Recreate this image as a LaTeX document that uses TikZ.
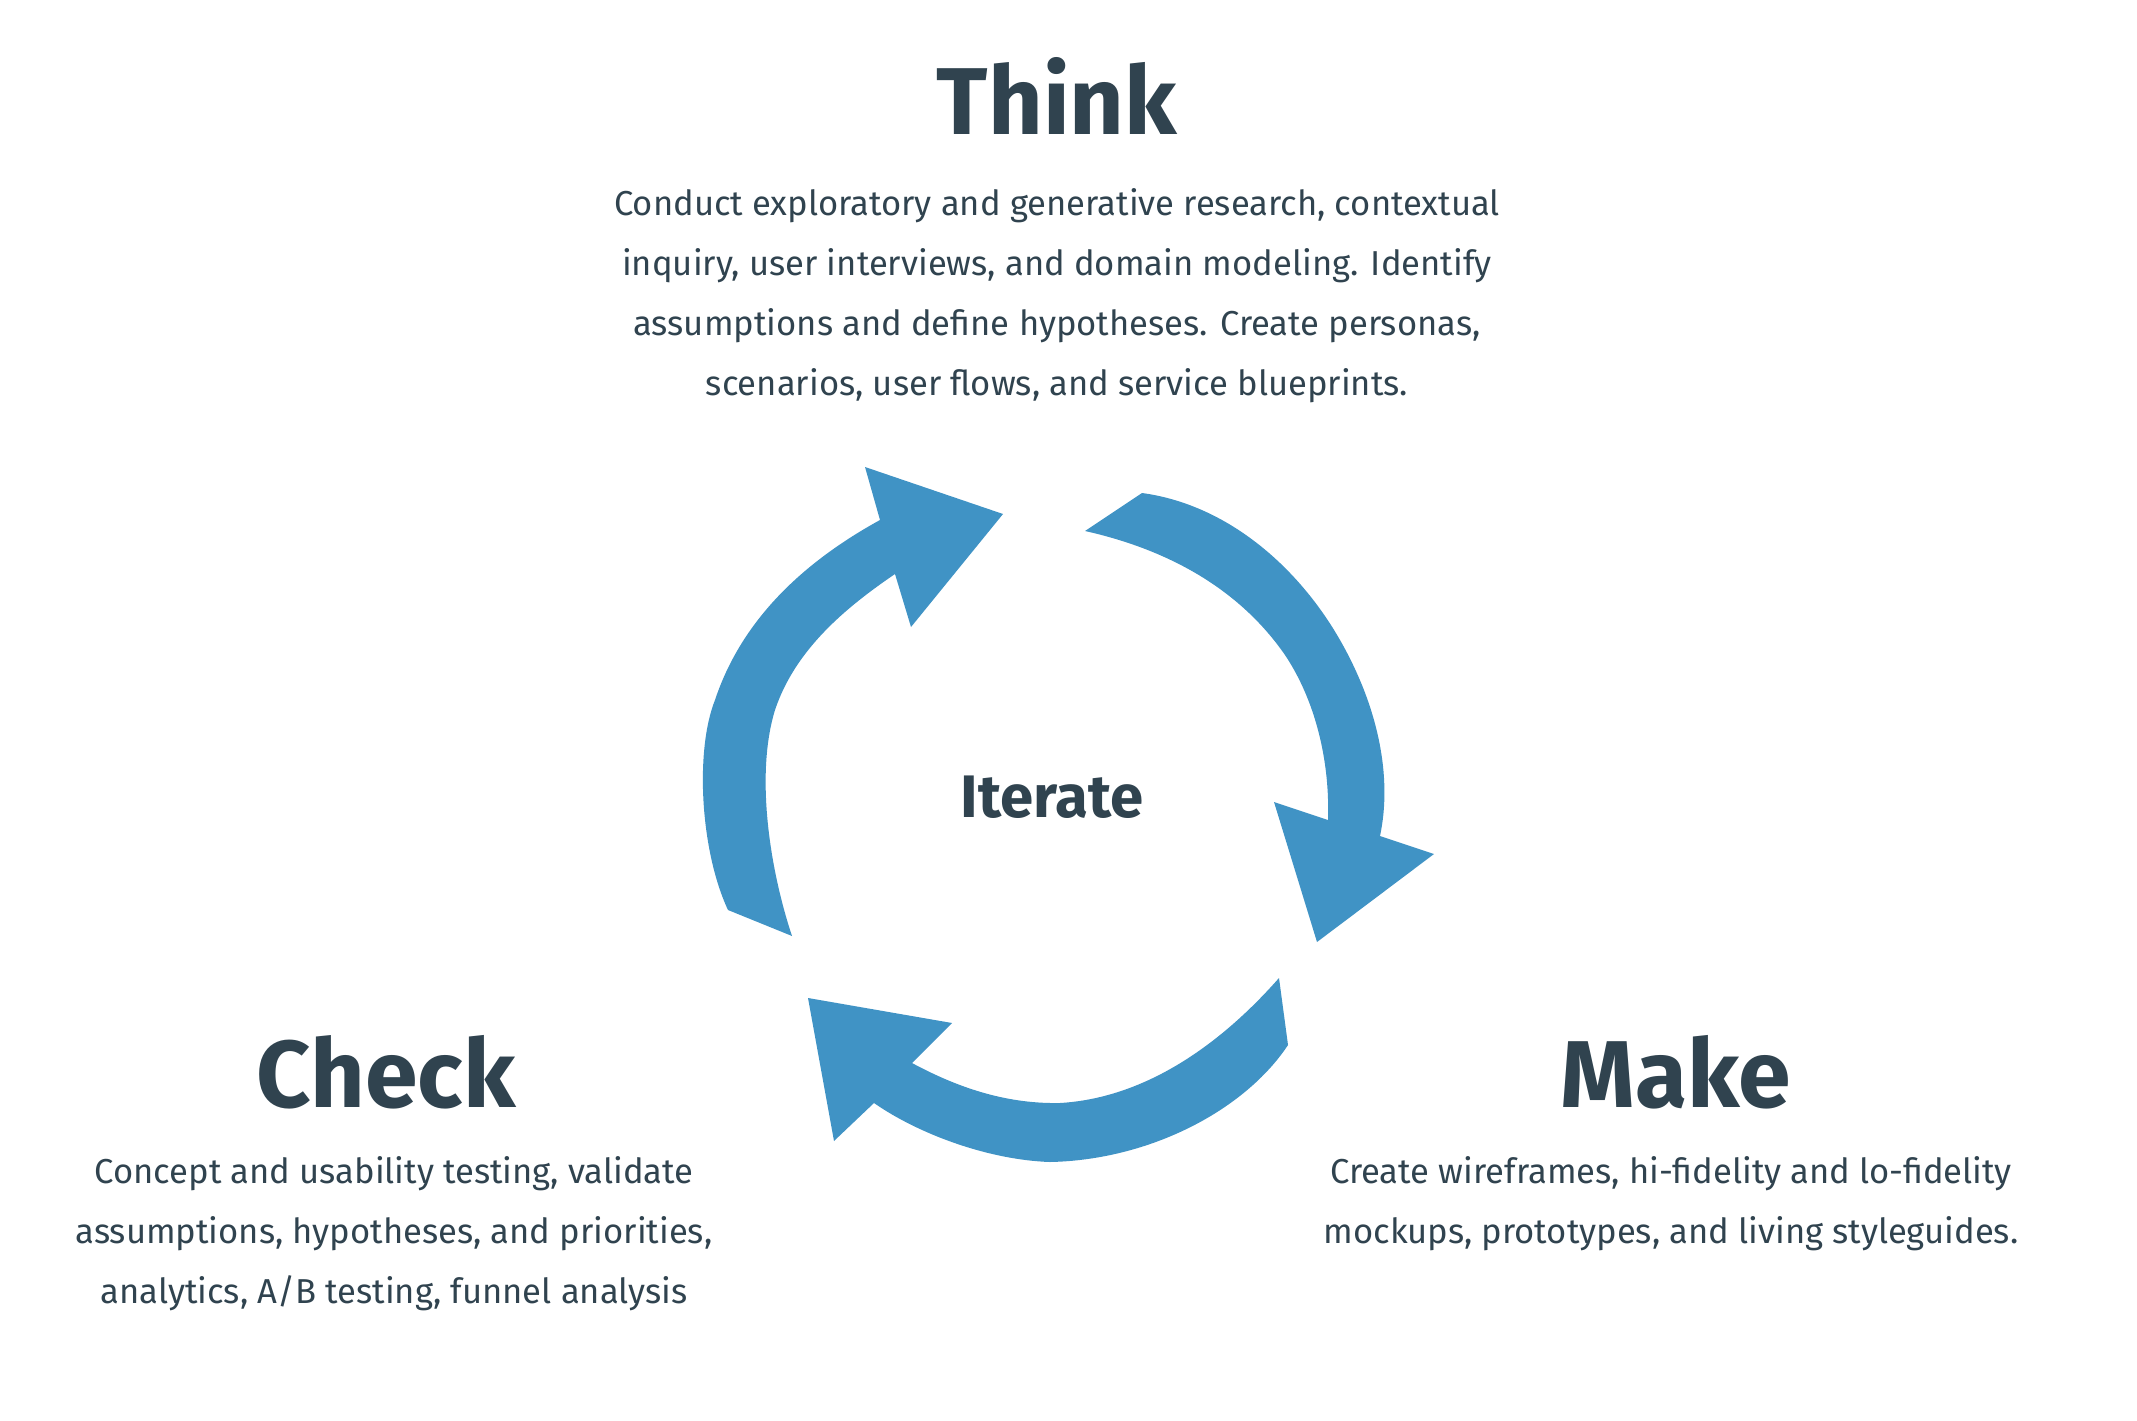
\documentclass[tikz,border=0pt]{standalone}
\usepackage{fontspec}
\setmainfont{Fira Sans}
\definecolor{cycblue}{HTML}{4093C5}
\definecolor{inkslate}{HTML}{30434F}
\begin{document}
\begin{tikzpicture}[x=1pt,y=-1pt,
  ring/.style={fill=cycblue,draw=none},
  headline/.style={font=\fontsize{95}{110}\selectfont\bfseries,text=inkslate,inner sep=0pt,anchor=base},
  bodytext/.style={font=\fontsize{34.6}{60}\selectfont,text=inkslate,inner sep=0pt,align=center,anchor=base},
  hubtext/.style={font=\fontsize{60}{70}\selectfont\bfseries,text=inkslate,inner sep=0pt,anchor=base}]
\useasboundingbox[fill=white] (0,0) rectangle (2137,1421);

% top-left arrow (Check -> Think)
\path[ring] (728,910) .. controls (700,850) and (695,750) .. (715,700)
  .. controls (735,640) and (780,575) .. (880,520)
  -- (865,467) -- (1003,514) -- (911,627) -- (895,574)
  .. controls (845,608) and (795,650) .. (775,710)
  .. controls (755,775) and (770,870) .. (792,936) -- cycle;

% right arrow (Think -> Make)
\path[ring] (1142,493) .. controls (1230,505) and (1300,570) .. (1340,640)
  .. controls (1380,710) and (1392,780) .. (1380,836)
  -- (1434,854) -- (1317,942) -- (1274,802) -- (1328,820)
  .. controls (1330,760) and (1315,700) .. (1285,655)
  .. controls (1240,590) and (1170,550) .. (1085,531) -- cycle;

% bottom arrow (Make -> Check)
\path[ring] (1288,1045) .. controls (1245,1110) and (1150,1160) .. (1050,1162)
  .. controls (990,1160) and (920,1135) .. (874,1103)
  -- (834,1141) -- (808,998) -- (952,1023) -- (912,1063)
  .. controls (962,1090) and (1010,1104) .. (1060,1103)
  .. controls (1145,1098) and (1220,1045) .. (1279,978) -- cycle;

\node[headline] (think) at (1057,134) {Think};
\node[bodytext] (thinkbody) at (1057,395) {Conduct exploratory and generative research, contextual\\
inquiry, user interviews, and domain modeling. Identify\\
assumptions and define hypotheses. Create personas,\\
scenarios, user flows, and service blueprints.};

\node[headline] (check) at (386,1107) {Check};
\node[bodytext] (checkbody) at (394,1303) {Concept and usability testing, validate\\
assumptions, hypotheses, and priorities,\\
analytics, A/B testing, funnel analysis};

\node[headline] (make) at (1676,1107) {Make};
\node[bodytext] (makebody) at (1671,1243) {Create wireframes, hi-fidelity and lo-fidelity\\
mockups, prototypes, and living styleguides.};

\node[hubtext] (iterate) at (1052,817) {Iterate};
\end{tikzpicture}
\end{document}
